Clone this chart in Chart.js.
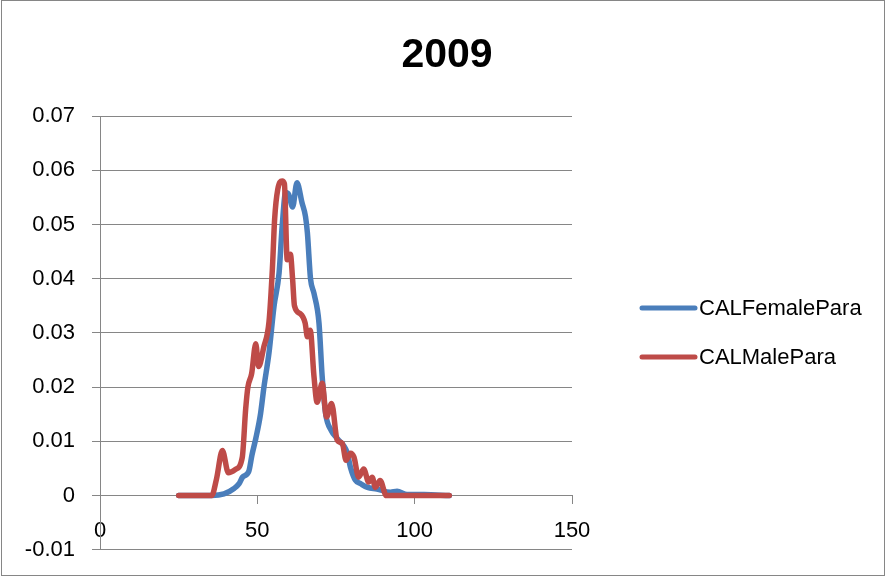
<!DOCTYPE html>
<html>
<head>
<meta charset="utf-8">
<script src="https://cdn.jsdelivr.net/npm/chart.js@4.4.1/dist/chart.umd.min.js"></script>
<style>
  body { margin: 0; background: #fff; overflow: hidden; }
  #caja { position: relative; width: 886px; height: 577px; overflow: hidden; }
  #grafica { position: absolute; left: 0; top: 0; }
  #marco { position: absolute; left: 1px; top: 0; width: 884px; height: 576px; border: 1px solid #868686; box-sizing: border-box; pointer-events: none; }
</style>
</head>
<body>
<div id="caja">
  <canvas id="grafica" width="886" height="580"></canvas>
  <div id="marco"></div>
</div>
<script>
var titulo = "2009"
var nombres_series = ["CALFemalePara", "CALMalePara"]
var colores = ["#4A7EBB", "#BE4B48"]

var hembra_x = [25, 30, 35.5, 39.4, 42.6, 44.2, 45.3, 47.3, 48.3, 49.5, 51, 52.1, 53.7, 55.3, 56.9, 57.9, 59, 60, 61.2, 62.6, 64.2, 65.3, 65.9, 66.9, 68, 69.6, 70.6, 71.7, 73.5, 75.4, 78.5, 79.6, 81.2, 82.8, 85, 88, 92.3, 94.4, 97.6, 103, 111]
var hembra_y = [0, 0, 0, 0.0003, 0.0013, 0.0022, 0.0034, 0.0045, 0.0075, 0.0105, 0.015, 0.020, 0.0263, 0.0349, 0.041, 0.0497, 0.0559, 0.0555, 0.0532, 0.0577, 0.054, 0.0515, 0.0485, 0.040, 0.0373, 0.0318, 0.022, 0.0151, 0.012, 0.0105, 0.008, 0.0052, 0.0028, 0.0022, 0.0015, 0.0012, 0.0006, 0.0008, 0.0002, 0.0002, 0]

var macho_x = [25, 30, 35.5, 37, 38.9, 40.8, 43, 45.2, 46.3, 47, 48.2, 49.5, 50.4, 52.1, 53.7, 54.8, 55.5, 56.5, 57.9, 58.6, 59.5, 60.5, 61.2, 61.8, 63.7, 65.2, 65.9, 66.8, 68, 69, 70.6, 72, 73.6, 75.4, 77, 78.2, 79.6, 80.7, 82.2, 83.8, 85.4, 86.5, 87.5, 89, 91, 95, 100, 105, 111]
var macho_y = [0, 0, 0, 0.003, 0.0083, 0.0042, 0.0048, 0.007, 0.016, 0.020, 0.0225, 0.028, 0.0238, 0.0275, 0.032, 0.042, 0.051, 0.0565, 0.058, 0.0575, 0.0435, 0.0445, 0.040, 0.035, 0.0335, 0.0318, 0.0293, 0.0305, 0.022, 0.0172, 0.0207, 0.0145, 0.017, 0.0102, 0.0096, 0.0065, 0.0078, 0.0071, 0.0034, 0.0049, 0.0025, 0.0034, 0.0015, 0.0028, 0, 0, 0, 0, 0]

var fuente = "'Liberation Sans', Arial, sans-serif"
var gris = "#868686"

function armar_puntos(xs, ys) {
    var puntos = []
    xs.forEach(function (x, i) {
        puntos.push({ x: x, y: ys[i] })
    })
    return puntos
}

// titulo y leyenda dibujados a mano para ubicarlos como en la original
var textos_propios = {
    id: "textos_propios",
    afterDraw: function (chart) {
        var ctx = chart.ctx
        var filas = [308, 357]
        ctx.save()
        ctx.fillStyle = "#000"
        ctx.font = "bold 41px " + fuente
        ctx.textAlign = "center"
        ctx.textBaseline = "middle"
        ctx.fillText(titulo, 447, 56)
        chart.data.datasets.forEach(function (ds, i) {
            var y = filas[i]
            ctx.strokeStyle = ds.borderColor
            ctx.lineWidth = 5
            ctx.lineCap = "round"
            ctx.beginPath()
            ctx.moveTo(642, y)
            ctx.lineTo(695, y)
            ctx.stroke()
            ctx.fillStyle = "#000"
            ctx.font = "22px " + fuente
            ctx.textBaseline = "middle"
            ctx.textAlign = "left"
            ctx.fillText(ds.label, 699, y + 1)
        })
        ctx.restore()
    }
}

var carga = {
    type: "scatter",
    data: {
        datasets: [{
            label: nombres_series[0],
            data: armar_puntos(hembra_x, hembra_y),
            borderColor: colores[0],
            backgroundColor: colores[0],
            order: 2
        }, {
            label: nombres_series[1],
            data: armar_puntos(macho_x, macho_y),
            borderColor: colores[1],
            backgroundColor: colores[1],
            order: 1
        }]
    },
    options: {
        responsive: false,
        animation: false,
        datasets: {
            scatter: {
                showLine: true,
                borderWidth: 5.5,
                pointRadius: 0,
                cubicInterpolationMode: "monotone",
                borderCapStyle: "round",
                borderJoinStyle: "round"
            }
        },
        layout: { padding: { left: 1, right: 314, top: 116, bottom: 0 } },
        plugins: {
            legend: { display: false },
            tooltip: { enabled: false },
            title: { display: false }
        },
        scales: {
            x: {
                type: "linear",
                position: { y: 0 },
                min: 0, max: 150,
                afterFit: function (eje) { eje.height = 25 },
                ticks: { stepSize: 50, color: "#000", padding: 14, font: { family: fuente, size: 22 } },
                grid: { drawOnChartArea: false, drawTicks: true, tickLength: 8, color: gris },
                border: { display: true, color: gris }
            },
            y: {
                type: "linear",
                min: -0.01, max: 0.07,
                afterFit: function (eje) { eje.width = 99 },
                ticks: {
                    stepSize: 0.01, color: "#000", padding: 17,
                    font: { family: fuente, size: 22 },
                    callback: function (v) { return String(+v.toFixed(2)) }
                },
                grid: { color: gris, tickLength: 8 },
                border: { display: true, color: gris }
            }
        }
    },
    plugins: [textos_propios]
}

var grafica = new Chart(document.getElementById("grafica"), carga)
</script>
</body>
</html>
